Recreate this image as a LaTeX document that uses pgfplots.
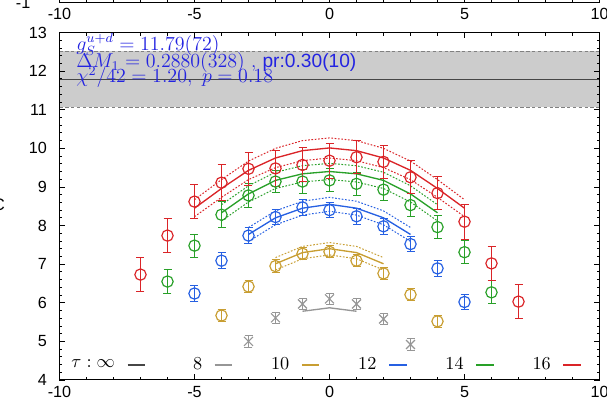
\documentclass[border=0pt]{standalone}
\usepackage{fontspec}
\usepackage{pgfplots}
\pgfplotsset{compat=1.18}
\usepackage{pgfplotstable}
\newfontfamily\tickfont{Liberation Sans}
\definecolor{cred}{RGB}{218,36,40}
\definecolor{cgreen}{RGB}{40,160,40}
\definecolor{cblue}{RGB}{38,96,226}
\definecolor{cgold}{RGB}{200,158,50}
\definecolor{cgray}{RGB}{150,150,150}
\definecolor{cinf}{RGB}{70,70,70}
\definecolor{ctext}{RGB}{35,35,225}
\definecolor{bandfill}{RGB}{204,204,204}
\definecolor{bandedge}{RGB}{128,128,128}

% data points: x, value, error
\pgfplotstableread{
x y e
-7 6.73 0.45
-6 7.74 0.45
-5 8.62 0.44
-4 9.11 0.46
-3 9.47 0.43
-2 9.48 0.46
-1 9.57 0.44
0 9.68 0.45
1 9.77 0.43
2 9.65 0.42
3 9.25 0.43
4 8.84 0.42
5 8.10 0.45
6 7.02 0.44
7 6.03 0.44
}\redpts
\pgfplotstableread{
x y e
-6 6.55 0.30
-5 7.48 0.30
-4 8.28 0.33
-3 8.78 0.30
-2 9.14 0.29
-1 9.14 0.30
0 9.17 0.30
1 9.08 0.29
2 8.93 0.29
3 8.53 0.29
4 7.96 0.30
5 7.31 0.30
6 6.27 0.30
}\greenpts
\pgfplotstableread{
x y e
-5 6.24 0.20
-4 7.09 0.20
-3 7.74 0.20
-2 8.22 0.20
-1 8.47 0.20
0 8.40 0.20
1 8.24 0.20
2 7.98 0.20
3 7.52 0.20
4 6.89 0.20
5 6.02 0.20
}\bluepts
\pgfplotstableread{
x y e
-4 5.67 0.16
-3 6.42 0.16
-2 6.95 0.16
-1 7.27 0.16
0 7.32 0.16
1 7.09 0.16
2 6.76 0.16
3 6.21 0.16
4 5.52 0.16
}\goldpts
\pgfplotstableread{
x y e
-3 5.00 0.15
-2 5.61 0.15
-1 5.97 0.15
0 6.10 0.15
1 5.97 0.15
2 5.58 0.15
3 4.92 0.15
}\graypts
% fit curves: x, central, upper, lower
\pgfplotstableread{
x y u l
-5 8.45 8.67 8.23
-4 8.96 9.19 8.73
-3 9.43 9.67 9.19
-2 9.75 10.00 9.50
-1 9.94 10.20 9.68
0 10.01 10.27 9.75
1 9.94 10.20 9.68
2 9.75 10.00 9.50
3 9.43 9.67 9.19
4 8.96 9.19 8.73
5 8.45 8.67 8.23
}\redfit
\pgfplotstableread{
x y u l
-4 8.33 8.54 8.12
-3 8.82 9.03 8.61
-2 9.17 9.38 8.96
-1 9.34 9.55 9.13
0 9.40 9.61 9.19
1 9.34 9.55 9.13
2 9.17 9.38 8.96
3 8.82 9.03 8.61
4 8.33 8.54 8.12
}\greenfit
\pgfplotstableread{
x y u l
-3 7.77 7.95 7.59
-2 8.20 8.38 8.02
-1 8.45 8.63 8.27
0 8.55 8.73 8.37
1 8.45 8.63 8.27
2 8.20 8.38 8.02
3 7.77 7.95 7.59
}\bluefit
\pgfplotstableread{
x y u l
-2 7.01 7.17 6.85
-1 7.30 7.46 7.14
0 7.40 7.56 7.24
1 7.30 7.46 7.14
2 7.01 7.17 6.85
}\goldfit
\pgfplotstableread{
x y
-1 5.78
0 5.87
1 5.78
}\grayfit

\begin{document}
\begin{tikzpicture}
\pgfplotsset{
  myaxis/.style={
    scale only axis, width=324pt,
    xmin=-10, xmax=10,
    xtick={-10,-5,0,5,10}, minor x tick num=4,
    tick align=inside, xtick pos=both, ytick pos=both,
    major tick length=3.5pt, minor tick length=1.8pt,
    axis line style={line width=0.6pt},
    every tick/.append style={black, line width=0.5pt},
    /pgf/number format/assume math mode=true,
    tick label style={font=\tickfont\fontsize{9.7}{11}\selectfont},
  },
  ptstyle/.style={only marks, mark options={line width=0.7pt, solid},
    error bars/y dir=both, error bars/y explicit,
    error bars/error bar style={line width=0.6pt},
    error bars/error mark options={line width=0.6pt, mark size=2.4pt, rotate=90}},
  fitline/.style={no marks, line width=0.8pt},
  bandline/.style={no marks, line width=0.6pt, dash pattern=on 1pt off 1pt},
}
\begin{axis}[myaxis, name=main, at={(0,0)}, anchor=south west,
  height=208.5pt, ymin=4, ymax=13, ytick={4,...,13}, minor y tick num=4,
  yticklabel style={xshift=-4pt},
  axis on top,
  legend columns=6, legend plot pos=right,
  legend image code/.code={\draw[#1] (0pt,0pt) -- (10.5pt,0pt);},
  legend style={draw=none, fill=none, at={(0.0163,0.043)}, anchor=west,
    inner sep=0pt, outer sep=0pt, font=\fontsize{11}{13}\selectfont,
    nodes={inner sep=0pt},
    /tikz/every odd column/.append style={column sep=7.2pt},
    /tikz/every even column/.append style={column sep=5.9pt}},
]
% band
\addplot[fill=bandfill, draw=none, forget plot] coordinates {(-10,11.07) (10,11.07) (10,12.51) (-10,12.51)} -- cycle;
\addplot[bandedge, line width=0.55pt, dash pattern=on 2pt off 1.5pt, forget plot] coordinates {(-10,11.07) (10,11.07)};
\addplot[bandedge, line width=0.55pt, dash pattern=on 2pt off 1.5pt, forget plot] coordinates {(-10,12.51) (10,12.51)};
\addplot[cinf, line width=0.75pt, forget plot] coordinates {(-10,11.79) (10,11.79)};

\node[anchor=base west, text=ctext, inner sep=0pt, font=\fontsize{11.5}{12}\selectfont] at (rel axis cs:0.0306,0.9468) {$g_S^{u+d} = 11.79(72)$};
\node[anchor=base west, text=ctext, inner sep=0pt, font=\fontsize{11.5}{12}\selectfont] at (rel axis cs:0.0306,0.9007) {$\Delta M_1 = 0.2880(328)$\ ,\ {\tickfont pr:0.30(10)}};
\node[anchor=base west, text=ctext, inner sep=0pt, font=\fontsize{11.5}{12}\selectfont] at (rel axis cs:0.0306,0.8547) {$\chi^2/42 = 1.20,\ p = 0.18$};

% fits
\addplot[cgray, fitline, forget plot] table[x=x,y=y] {\grayfit};
\addplot[cgold, fitline, forget plot] table[x=x,y=y] {\goldfit};
\addplot[cgold, bandline, forget plot] table[x=x,y=u] {\goldfit};
\addplot[cgold, bandline, forget plot] table[x=x,y=l] {\goldfit};
\addplot[cblue, fitline, forget plot] table[x=x,y=y] {\bluefit};
\addplot[cblue, bandline, forget plot] table[x=x,y=u] {\bluefit};
\addplot[cblue, bandline, forget plot] table[x=x,y=l] {\bluefit};
\addplot[cgreen, fitline, forget plot] table[x=x,y=y] {\greenfit};
\addplot[cgreen, bandline, forget plot] table[x=x,y=u] {\greenfit};
\addplot[cgreen, bandline, forget plot] table[x=x,y=l] {\greenfit};
\addplot[cred, fitline, forget plot] table[x=x,y=y] {\redfit};
\addplot[cred, bandline, forget plot] table[x=x,y=u] {\redfit};
\addplot[cred, bandline, forget plot] table[x=x,y=l] {\redfit};

% data
\addplot[cgray, mark=x, mark size=3.8pt, ptstyle, forget plot] table[x=x,y=y,y error=e] {\graypts};
\addplot[cgold, mark=o, mark size=3.4pt, ptstyle, forget plot] table[x=x,y=y,y error=e] {\goldpts};
\addplot[cblue, mark=o, mark size=3.4pt, ptstyle, forget plot] table[x=x,y=y,y error=e] {\bluepts};
\addplot[cgreen, mark=o, mark size=3.4pt, ptstyle, forget plot] table[x=x,y=y,y error=e] {\greenpts};
\addplot[cred, mark=o, mark size=3.4pt, ptstyle, forget plot] table[x=x,y=y,y error=e] {\redpts};

% legend
\addlegendimage{cinf, line width=0.7pt}
\addlegendentry{\makebox[28pt][r]{$\tau : \infty$}}
\addlegendimage{cgray, line width=0.7pt}
\addlegendentry{\makebox[28pt][r]{$8$}}
\addlegendimage{cgold, line width=0.7pt}
\addlegendentry{\makebox[28pt][r]{$10$}}
\addlegendimage{cblue, line width=0.7pt}
\addlegendentry{\makebox[28pt][r]{$12$}}
\addlegendimage{cgreen, line width=0.7pt}
\addlegendentry{\makebox[28pt][r]{$14$}}
\addlegendimage{cred, line width=0.7pt}
\addlegendentry{\makebox[28pt][r]{$16$}}
\end{axis}

\begin{axis}[myaxis, at={(0,226.5pt)}, anchor=south west, height=80pt,
  ymin=-1, ymax=1, ytick={-1}, minor y tick num=0,
  yticklabel style={xshift=-14pt}]
\addplot[draw=none] coordinates {(0,0)};
\end{axis}

\node[anchor=east, inner sep=0pt, font=\tickfont\fontsize{10}{12}\selectfont] at (-32.5pt,105pt) {C};

\pgfresetboundingbox
\path[use as bounding box] (-35.7pt,-14.4pt) rectangle (328.5pt,228pt);
\end{tikzpicture}
\end{document}
